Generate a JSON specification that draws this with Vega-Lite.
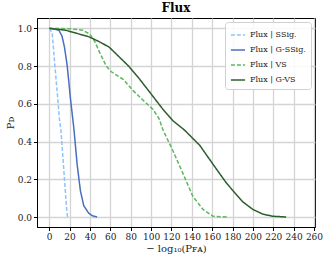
{
  "$schema": "https://vega.github.io/schema/vega-lite/v6.json",
  "width": 278,
  "height": 209,
  "padding": {"left": 37, "top": 18, "right": 14, "bottom": 34},
  "autosize": {"type": "none"},
  "background": "white",
  "title": {"text": "Flux", "font": "DejaVu Serif", "fontSize": 12, "fontWeight": "bold", "color": "#000", "offset": 3},
  "config": {
    "view": {"stroke": "#000", "strokeWidth": 1},
    "axis": {"labelFont": "DejaVu Serif", "titleFont": "DejaVu Serif", "labelFontSize": 9, "titleFontSize": 10, "labelColor": "#222", "titleColor": "#222", "titleFontWeight": "normal", "gridColor": "#d4d4d4", "gridWidth": 1.3, "domainColor": "#000", "tickColor": "#000", "tickSize": 3.5}
  },
  "data": {"values": [
    {"s": "Flux | SSig.", "x": 0, "y": 1},
    {"s": "Flux | SSig.", "x": 1, "y": 0.995},
    {"s": "Flux | SSig.", "x": 3, "y": 0.97},
    {"s": "Flux | SSig.", "x": 5.6, "y": 0.8},
    {"s": "Flux | SSig.", "x": 8.5, "y": 0.62},
    {"s": "Flux | SSig.", "x": 10, "y": 0.52},
    {"s": "Flux | SSig.", "x": 11.5, "y": 0.46},
    {"s": "Flux | SSig.", "x": 13, "y": 0.35},
    {"s": "Flux | SSig.", "x": 15, "y": 0.2},
    {"s": "Flux | SSig.", "x": 17, "y": 0.05},
    {"s": "Flux | SSig.", "x": 18, "y": 0},
    {"s": "Flux | G-SSig.", "x": 0, "y": 1},
    {"s": "Flux | G-SSig.", "x": 5, "y": 0.997},
    {"s": "Flux | G-SSig.", "x": 9.5, "y": 0.99},
    {"s": "Flux | G-SSig.", "x": 12.5, "y": 0.96},
    {"s": "Flux | G-SSig.", "x": 15, "y": 0.9},
    {"s": "Flux | G-SSig.", "x": 17.7, "y": 0.8},
    {"s": "Flux | G-SSig.", "x": 21, "y": 0.62},
    {"s": "Flux | G-SSig.", "x": 24.2, "y": 0.47},
    {"s": "Flux | G-SSig.", "x": 27.4, "y": 0.28},
    {"s": "Flux | G-SSig.", "x": 30.6, "y": 0.14},
    {"s": "Flux | G-SSig.", "x": 33.9, "y": 0.06},
    {"s": "Flux | G-SSig.", "x": 38.8, "y": 0.02},
    {"s": "Flux | G-SSig.", "x": 43, "y": 0.005},
    {"s": "Flux | G-SSig.", "x": 47, "y": 0},
    {"s": "Flux | VS", "x": 0, "y": 1},
    {"s": "Flux | VS", "x": 20, "y": 0.998},
    {"s": "Flux | VS", "x": 33, "y": 0.99},
    {"s": "Flux | VS", "x": 39.8, "y": 0.97},
    {"s": "Flux | VS", "x": 44.8, "y": 0.93},
    {"s": "Flux | VS", "x": 49.7, "y": 0.87},
    {"s": "Flux | VS", "x": 56, "y": 0.8},
    {"s": "Flux | VS", "x": 61, "y": 0.77},
    {"s": "Flux | VS", "x": 72.6, "y": 0.73},
    {"s": "Flux | VS", "x": 82.4, "y": 0.67},
    {"s": "Flux | VS", "x": 92, "y": 0.62},
    {"s": "Flux | VS", "x": 102, "y": 0.57},
    {"s": "Flux | VS", "x": 108, "y": 0.52},
    {"s": "Flux | VS", "x": 111.8, "y": 0.46},
    {"s": "Flux | VS", "x": 121.6, "y": 0.35},
    {"s": "Flux | VS", "x": 131.4, "y": 0.23},
    {"s": "Flux | VS", "x": 141, "y": 0.11},
    {"s": "Flux | VS", "x": 151, "y": 0.04},
    {"s": "Flux | VS", "x": 160.8, "y": 0.004},
    {"s": "Flux | VS", "x": 175, "y": 0},
    {"s": "Flux | G-VS", "x": 0, "y": 1},
    {"s": "Flux | G-VS", "x": 16.3, "y": 0.99},
    {"s": "Flux | G-VS", "x": 29.4, "y": 0.97},
    {"s": "Flux | G-VS", "x": 39.2, "y": 0.955},
    {"s": "Flux | G-VS", "x": 49, "y": 0.93},
    {"s": "Flux | G-VS", "x": 59, "y": 0.9},
    {"s": "Flux | G-VS", "x": 68.5, "y": 0.85},
    {"s": "Flux | G-VS", "x": 78, "y": 0.8},
    {"s": "Flux | G-VS", "x": 88.9, "y": 0.73},
    {"s": "Flux | G-VS", "x": 101.8, "y": 0.64},
    {"s": "Flux | G-VS", "x": 111.8, "y": 0.57},
    {"s": "Flux | G-VS", "x": 121.6, "y": 0.51},
    {"s": "Flux | G-VS", "x": 133, "y": 0.46},
    {"s": "Flux | G-VS", "x": 147.8, "y": 0.38},
    {"s": "Flux | G-VS", "x": 160.8, "y": 0.28},
    {"s": "Flux | G-VS", "x": 174, "y": 0.18},
    {"s": "Flux | G-VS", "x": 180.4, "y": 0.14},
    {"s": "Flux | G-VS", "x": 190.2, "y": 0.08},
    {"s": "Flux | G-VS", "x": 200, "y": 0.04},
    {"s": "Flux | G-VS", "x": 209.8, "y": 0.015},
    {"s": "Flux | G-VS", "x": 219.6, "y": 0.004},
    {"s": "Flux | G-VS", "x": 232.7, "y": 0}
  ]},
  "mark": {"type": "line", "strokeWidth": 1.5},
  "encoding": {
    "x": {"field": "x", "type": "quantitative", "scale": {"domain": [-12, 261], "nice": false, "zero": false},
      "axis": {"values": [0,20,40,60,80,100,120,140,160,180,200,220,240,260], "title": "− log₁₀(Pꜰᴀ)", "titlePadding": 2, "labelPadding": 2}},
    "y": {"field": "y", "type": "quantitative", "scale": {"domain": [-0.053, 1.055], "nice": false, "zero": false},
      "axis": {"values": [0, 0.2, 0.4, 0.6, 0.8, 1.0], "format": ".1f", "title": "Pᴅ", "titlePadding": 2, "labelPadding": 2}},
    "color": {"field": "s", "type": "nominal", "sort": ["Flux | SSig.", "Flux | G-SSig.", "Flux | VS", "Flux | G-VS"],
      "scale": {"domain": ["Flux | SSig.", "Flux | G-SSig.", "Flux | VS", "Flux | G-VS"], "range": ["#8cc4ff", "#4a6fbf", "#5cb85c", "#2d5e2d"]},
      "legend": {"title": null, "orient": "top-right", "offset": 4, "fillColor": "rgba(255,255,255,0.85)", "strokeColor": "#d0d0d0", "cornerRadius": 3, "padding": 5, "labelFont": "DejaVu Serif", "labelFontSize": 8, "labelColor": "#222", "symbolType": "stroke", "symbolSize": 200, "symbolStrokeWidth": 1.5, "rowPadding": 3}},
    "strokeDash": {"field": "s", "type": "nominal", "sort": ["Flux | SSig.", "Flux | G-SSig.", "Flux | VS", "Flux | G-VS"],
      "scale": {"domain": ["Flux | SSig.", "Flux | G-SSig.", "Flux | VS", "Flux | G-VS"], "range": [[4, 2], [1, 0], [4, 2], [1, 0]]},
      "legend": {"title": null}},
    "order": {"field": "x", "type": "quantitative"}
  }
}
